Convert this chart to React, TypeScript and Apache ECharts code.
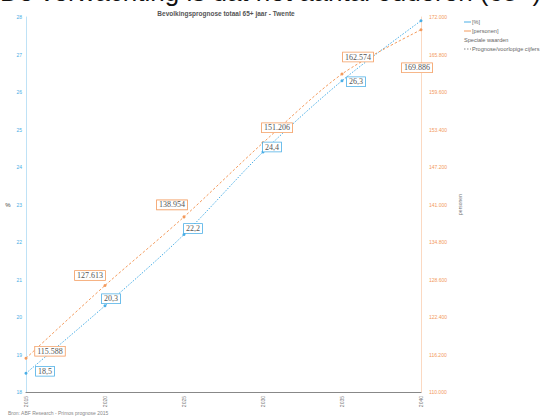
import React, { useEffect, useRef } from "react";
import * as echarts from "echarts";

const years = ["2015", "2020", "2025", "2030", "2035", "2040"];
const pctValues = [18.5, 20.3, 22.2, 24.4, 26.3, 27.9];
const personValues = [115588, 127613, 138954, 151206, 162574, 169886];
const pctLabelOffsets = [[19, -2], [6, -7], [9, -6], [9, -5], [14, 1], null];
const personLabelOffsets = [[24, -7], [-15, -10], [-12, -12], [14, -15], [16, -17], [-4, 38]];

const BLUE = "#4aaee6";
const ORANGE = "#f39a5c";

const fmtPct = (v: number) => v.toFixed(1).replace(".", ",");
const fmtPers = (v: number) => String(Math.round(v)).replace(/\B(?=(\d{3})+(?!\d))/g, ".");

export default function App() {
  const ref = useRef<HTMLDivElement>(null);
  useEffect(() => {
    if (!ref.current) return;
    const chart = echarts.init(ref.current, null, { renderer: "svg" });
    const labelBase = {
      show: true,
      position: "inside",
      fontFamily: "Liberation Serif, serif",
      fontSize: 8,
      color: "#555",
      backgroundColor: "#fff",
      borderWidth: 0.8,
      padding: [1, 2, 0, 2],
    };
    const pctData = pctValues.map((v, i) => ({
      value: v,
      label: pctLabelOffsets[i]
        ? { ...labelBase, borderColor: BLUE, offset: pctLabelOffsets[i], formatter: () => fmtPct(v) }
        : { show: false },
    }));
    const persData = personValues.map((v, i) => ({
      value: v,
      label: { ...labelBase, borderColor: ORANGE, offset: personLabelOffsets[i], formatter: () => fmtPers(v) },
    }));
    const legendItems = [
      { text: "[%]", color: BLUE, dash: false },
      { text: "[personen]", color: ORANGE, dash: false },
      { text: "Speciale waarden", color: null, dash: false },
      { text: "Prognose/voorlopige cijfers", color: "#888", dash: true },
    ];
    const graphics: any[] = [
      {
        type: "text",
        left: 0,
        top: -21,
        style: { text: "De verwachting is dat het aantal ouderen (65+) in Twente", fontFamily: "Liberation Sans, Arial", fontSize: 26, fill: "#111" },
      },
      {
        type: "text",
        x: 226,
        y: 13,
        style: { text: "Bevolkingsprognose totaal 65+ jaar - Twente", fontFamily: "Liberation Sans, Arial", fontSize: 6.5, fontWeight: "bold", fill: "#555", align: "center", verticalAlign: "middle" },
      },
      {
        type: "text",
        x: 8,
        y: 413,
        style: { text: "Bron: ABF Research - Primos prognose 2015", fontFamily: "Liberation Sans, Arial", fontSize: 5, fill: "#888", verticalAlign: "middle" },
      },
    ];
    legendItems.forEach((it, i) => {
      const y = 22 + i * 9;
      if (it.color) {
        graphics.push({
          type: "line",
          shape: { x1: 464, y1: y, x2: 471, y2: y },
          style: { stroke: it.color, lineWidth: 1, lineDash: it.dash ? [1.5, 1.5] : null },
        });
      }
      graphics.push({
        type: "text",
        x: it.color ? 472 : 464,
        y,
        style: { text: it.text, fontFamily: "Liberation Sans, Arial", fontSize: 5.6, fill: "#666", verticalAlign: "middle" },
      });
    });

    chart.setOption({
      animation: false,
      backgroundColor: "#fff",
      grid: { left: 26, right: 124, top: 17, bottom: 26, containLabel: false },
      xAxis: {
        type: "category",
        data: years,
        boundaryGap: false,
        axisLine: { lineStyle: { color: "#888", width: 1.2 } },
        axisTick: { show: false },
        axisLabel: { rotate: 90, fontSize: 5, color: "#777", margin: 4 },
        splitLine: { show: false },
      },
      yAxis: [
        {
          type: "value",
          min: 18,
          max: 28,
          interval: 1,
          name: "%",
          nameLocation: "middle",
          nameGap: 14,
          nameRotate: 0,
          nameTextStyle: { fontSize: 6, color: "#444" },
          axisLine: { show: true, lineStyle: { color: "#bfe2f6" } },
          axisTick: { show: false },
          axisLabel: { fontSize: 5, color: BLUE, margin: 4 },
          splitLine: { show: false },
        },
        {
          type: "value",
          min: 110000,
          max: 172000,
          interval: 6200,
          name: "personen",
          nameLocation: "middle",
          nameGap: 30,
          nameRotate: 90,
          nameTextStyle: { fontSize: 5, color: "#777" },
          axisLine: { show: true, lineStyle: { color: "#fbd9c2" } },
          axisTick: { show: false },
          axisLabel: { fontSize: 5, color: ORANGE, margin: 8, formatter: (v: number) => fmtPers(v) },
          splitLine: { show: false },
        },
      ],
      graphic: graphics,
      series: [
        {
          type: "line",
          yAxisIndex: 0,
          data: pctData,
          smooth: 0.3,
          symbol: "circle",
          symbolSize: 3,
          itemStyle: { color: BLUE },
          lineStyle: { color: BLUE, width: 1, type: [1.5, 1.5] },
          z: 3,
        },
        {
          type: "line",
          yAxisIndex: 1,
          data: persData,
          smooth: 0.3,
          symbol: "circle",
          symbolSize: 3,
          itemStyle: { color: ORANGE },
          lineStyle: { color: ORANGE, width: 1, type: [2.5, 2] },
          z: 3,
        },
      ],
    });
    return () => chart.dispose();
  }, []);
  return <div ref={ref} style={{ width: 545, height: 418, position: "absolute", left: 0, top: 0 }} />;
}
